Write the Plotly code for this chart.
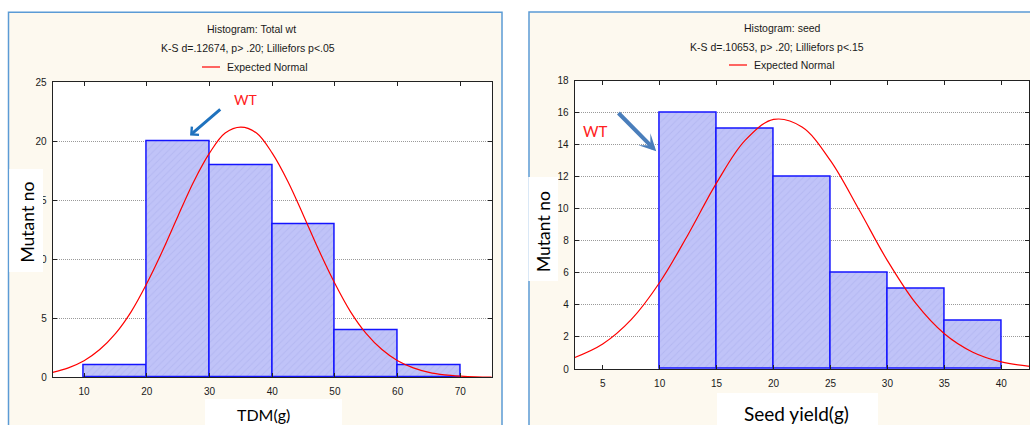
import plotly.graph_objects as go

W, H = 1030, 425

# ---------------- data ----------------
tdm_bin_start = [10, 20, 30, 40, 50, 60]
tdm_counts = [1, 20, 18, 13, 4, 1]
tdm_bin_width = 10
tdm_normal_x = [5, 7.5, 10, 12.5, 15, 17.5, 20, 22.5, 25, 27.5, 30, 32.5, 35, 37.5,
                40, 42.5, 45, 47.5, 50, 52.5, 55, 57.5, 60, 62.5, 65, 67.5, 70, 72.5, 75]
tdm_normal_y = [0.42, 0.80, 1.40, 2.35, 3.70, 5.55, 7.95, 10.7, 13.7, 16.6, 19.0, 20.7, 21.2, 20.7,
                19.0, 16.6, 13.7, 10.7, 7.95, 5.55, 3.70, 2.35, 1.40, 0.80, 0.42, 0.21, 0.10, 0.04, 0.02]
tdm_xticks = [10, 20, 30, 40, 50, 60, 70]
tdm_yticks = [0, 5, 10, 15, 20, 25]

seed_bin_start = [10, 15, 20, 25, 30, 35]
seed_counts = [16, 15, 12, 6, 5, 3]
seed_bin_width = 5
seed_normal_x = [2.5, 5, 7.5, 10, 12.5, 15, 17.5, 20, 22.5, 25, 27.5, 30, 32.5, 35, 37.5, 40, 42.5]
seed_normal_y = [0.70, 1.56, 3.08, 5.40, 8.40, 11.62, 14.27, 15.58, 15.11, 13.01, 9.96, 6.77,
                 4.09, 2.20, 1.05, 0.44, 0.17]
seed_xticks = [5, 10, 15, 20, 25, 30, 35, 40]
seed_yticks = [0, 2, 4, 6, 8, 10, 12, 14, 16, 18]


def px(x):
    return x / W


def py(y):
    return 1 - y / H


BAR_FILL = "#C0C3F8"
BAR_HATCH = "#A9ADEC"
BAR_LINE = "#1414FF"
CREAM = "#FDF9EF"
PANEL_LINE = "#5B9BD5"
AXIS_FONT = dict(family="Liberation Sans, Arial, sans-serif", size=10, color="#1a1a1a")
TITLE_FONT = dict(family="Liberation Sans, Arial, sans-serif", size=10.5, color="#1a1a1a")
LABEL_FONT = "Lato, Carlito, Calibri, sans-serif"

fig = go.Figure()

bar_marker = dict(color=BAR_FILL, line=dict(color=BAR_LINE, width=1.5),
                  pattern=dict(shape="/", fgcolor=BAR_HATCH, bgcolor=BAR_FILL,
                               size=5, solidity=0.2))

fig.add_trace(go.Bar(x=tdm_bin_start, y=tdm_counts, width=tdm_bin_width, offset=0,
                     marker=bar_marker, xaxis="x", yaxis="y", showlegend=False))
fig.add_trace(go.Scatter(x=tdm_normal_x, y=tdm_normal_y, mode="lines",
                         line=dict(color="#FF0000", width=1.2, shape="spline"),
                         xaxis="x", yaxis="y", showlegend=False, cliponaxis=True))
fig.add_trace(go.Bar(x=seed_bin_start, y=seed_counts, width=seed_bin_width, offset=0,
                     marker=bar_marker, xaxis="x2", yaxis="y2", showlegend=False))
fig.add_trace(go.Scatter(x=seed_normal_x, y=seed_normal_y, mode="lines",
                         line=dict(color="#FF0000", width=1.2, shape="spline"),
                         xaxis="x2", yaxis="y2", showlegend=False, cliponaxis=True))

common_x = dict(showline=True, mirror="ticks", linecolor="#222", linewidth=1,
                ticks="inside", ticklen=4, tickcolor="#222", showgrid=False,
                zeroline=False, tickfont=AXIS_FONT, ticklabelstandoff=5, automargin=False)
common_y = dict(showline=True, mirror="ticks", linecolor="#222", linewidth=1,
                ticks="inside", ticklen=4, tickcolor="#222", showgrid=True,
                gridcolor="#9A9A9A", griddash="1px,1px", gridwidth=1,
                zeroline=False, tickfont=AXIS_FONT, ticklabelstandoff=3, automargin=False)

fig.update_layout(
    width=W, height=H, margin=dict(l=0, r=0, t=0, b=0, pad=0, autoexpand=False),
    paper_bgcolor="white", plot_bgcolor="white", bargap=0,
    xaxis=dict(domain=[px(52.7), px(491.7)], range=[5, 75], tickvals=tdm_xticks,
               anchor="y", **common_x),
    yaxis=dict(domain=[py(377.3), py(82.3)], range=[0, 25], tickvals=tdm_yticks,
               anchor="x", **common_y),
    xaxis2=dict(domain=[px(574.7), px(1029.3)], range=[2.54, 42.46], tickvals=seed_xticks,
                anchor="y2", **common_x),
    yaxis2=dict(domain=[py(369), py(80.7)], range=[0, 18], tickvals=seed_yticks,
                anchor="x2", **common_y),
)

shapes = [
    # cream panels
    dict(type="rect", xref="paper", yref="paper", x0=px(8.5), x1=px(502), y0=py(440), y1=py(12.3),
         fillcolor=CREAM, line=dict(color=PANEL_LINE, width=1.5), layer="below"),
    dict(type="rect", xref="paper", yref="paper", x0=px(529), x1=px(1045), y0=py(440), y1=py(12),
         fillcolor=CREAM, line=dict(color=PANEL_LINE, width=1.5), layer="below"),
    # white plot areas
    dict(type="rect", xref="x domain", yref="y domain", x0=0, x1=1, y0=0, y1=1,
         fillcolor="white", line=dict(width=0), layer="below"),
    dict(type="rect", xref="x2 domain", yref="y2 domain", x0=0, x1=1, y0=0, y1=1,
         fillcolor="white", line=dict(width=0), layer="below"),
    # white label boxes
    dict(type="rect", xref="paper", yref="paper", x0=px(9.3), x1=px(43), y0=py(272), y1=py(169),
         fillcolor="white", line=dict(width=0), layer="above"),
    dict(type="rect", xref="paper", yref="paper", x0=px(528.3), x1=px(558), y0=py(281), y1=py(177),
         fillcolor="white", line=dict(width=0), layer="above"),
    dict(type="rect", xref="paper", yref="paper", x0=px(205), x1=px(342), y0=py(440), y1=py(399),
         fillcolor="white", line=dict(width=0), layer="above"),
    dict(type="rect", xref="paper", yref="paper", x0=px(717), x1=px(878), y0=py(440), y1=py(393),
         fillcolor="white", line=dict(width=0), layer="above"),
    # legend samples
    dict(type="line", xref="paper", yref="paper", x0=px(202), x1=px(220), y0=py(67), y1=py(67),
         line=dict(color="#FF0000", width=1.2), layer="above"),
    dict(type="line", xref="paper", yref="paper", x0=px(729), x1=px(747), y0=py(65), y1=py(65),
         line=dict(color="#FF0000", width=1.2), layer="above"),
]
fig.update_layout(shapes=shapes)


def txt(text, x, y, font, xanchor="center", angle=0):
    return dict(text=text, xref="paper", yref="paper", x=px(x), y=py(y), xanchor=xanchor,
                yanchor="middle", showarrow=False, font=font, textangle=angle, borderpad=0)


annotations = [
    txt("Histogram: Total wt", 251.7, 29.3, TITLE_FONT),
    txt("K-S d=.12674, p> .20; Lilliefors p<.05", 247.7, 48.3, TITLE_FONT),
    txt("Expected Normal", 225.7, 67, TITLE_FONT, xanchor="left"),
    txt("Histogram: seed", 782.3, 28.3, TITLE_FONT),
    txt("K-S d=.10653, p> .20; Lilliefors p<.15", 776.7, 47.3, TITLE_FONT),
    txt("Expected Normal", 753, 65, TITLE_FONT, xanchor="left"),
    txt("Mutant no", 26.5, 222, dict(family=LABEL_FONT, size=17.5, color="black"), angle=-90),
    txt("Mutant no", 543, 232, dict(family=LABEL_FONT, size=17.5, color="black"), angle=-90),
    txt("TDM(g)", 263, 414, dict(family=LABEL_FONT, size=16, color="black")),
    txt("Seed yield(g)", 796, 413, dict(family=LABEL_FONT, size=19, color="black")),
    txt("WT", 245, 99.3, dict(family=LABEL_FONT, size=14, color="#FF2020")),
    txt("WT", 595.3, 130.7, dict(family=LABEL_FONT, size=15, color="#FF2020")),
    # arrows (tip anchored in data coordinates, tail as pixel offset)
    dict(text="", xref="x", yref="y", x=26.9, y=20.5, ax=31.7, ay=-27.3,
         showarrow=True, arrowhead=4, arrowsize=0.7, arrowwidth=3, arrowcolor="#1F72BE"),
    dict(text="", xref="x2", yref="y2", x=9.7, y=13.6, ax=-39.3, ay=-39.7,
         showarrow=True, arrowhead=3, arrowsize=0.7, arrowwidth=4, arrowcolor="#4A7EBB"),
]
fig.update_layout(annotations=annotations)

fig.write_html("out.html", config={"displayModeBar": False},
               post_script="document.body.style.margin='0';document.body.style.overflow='hidden';")
